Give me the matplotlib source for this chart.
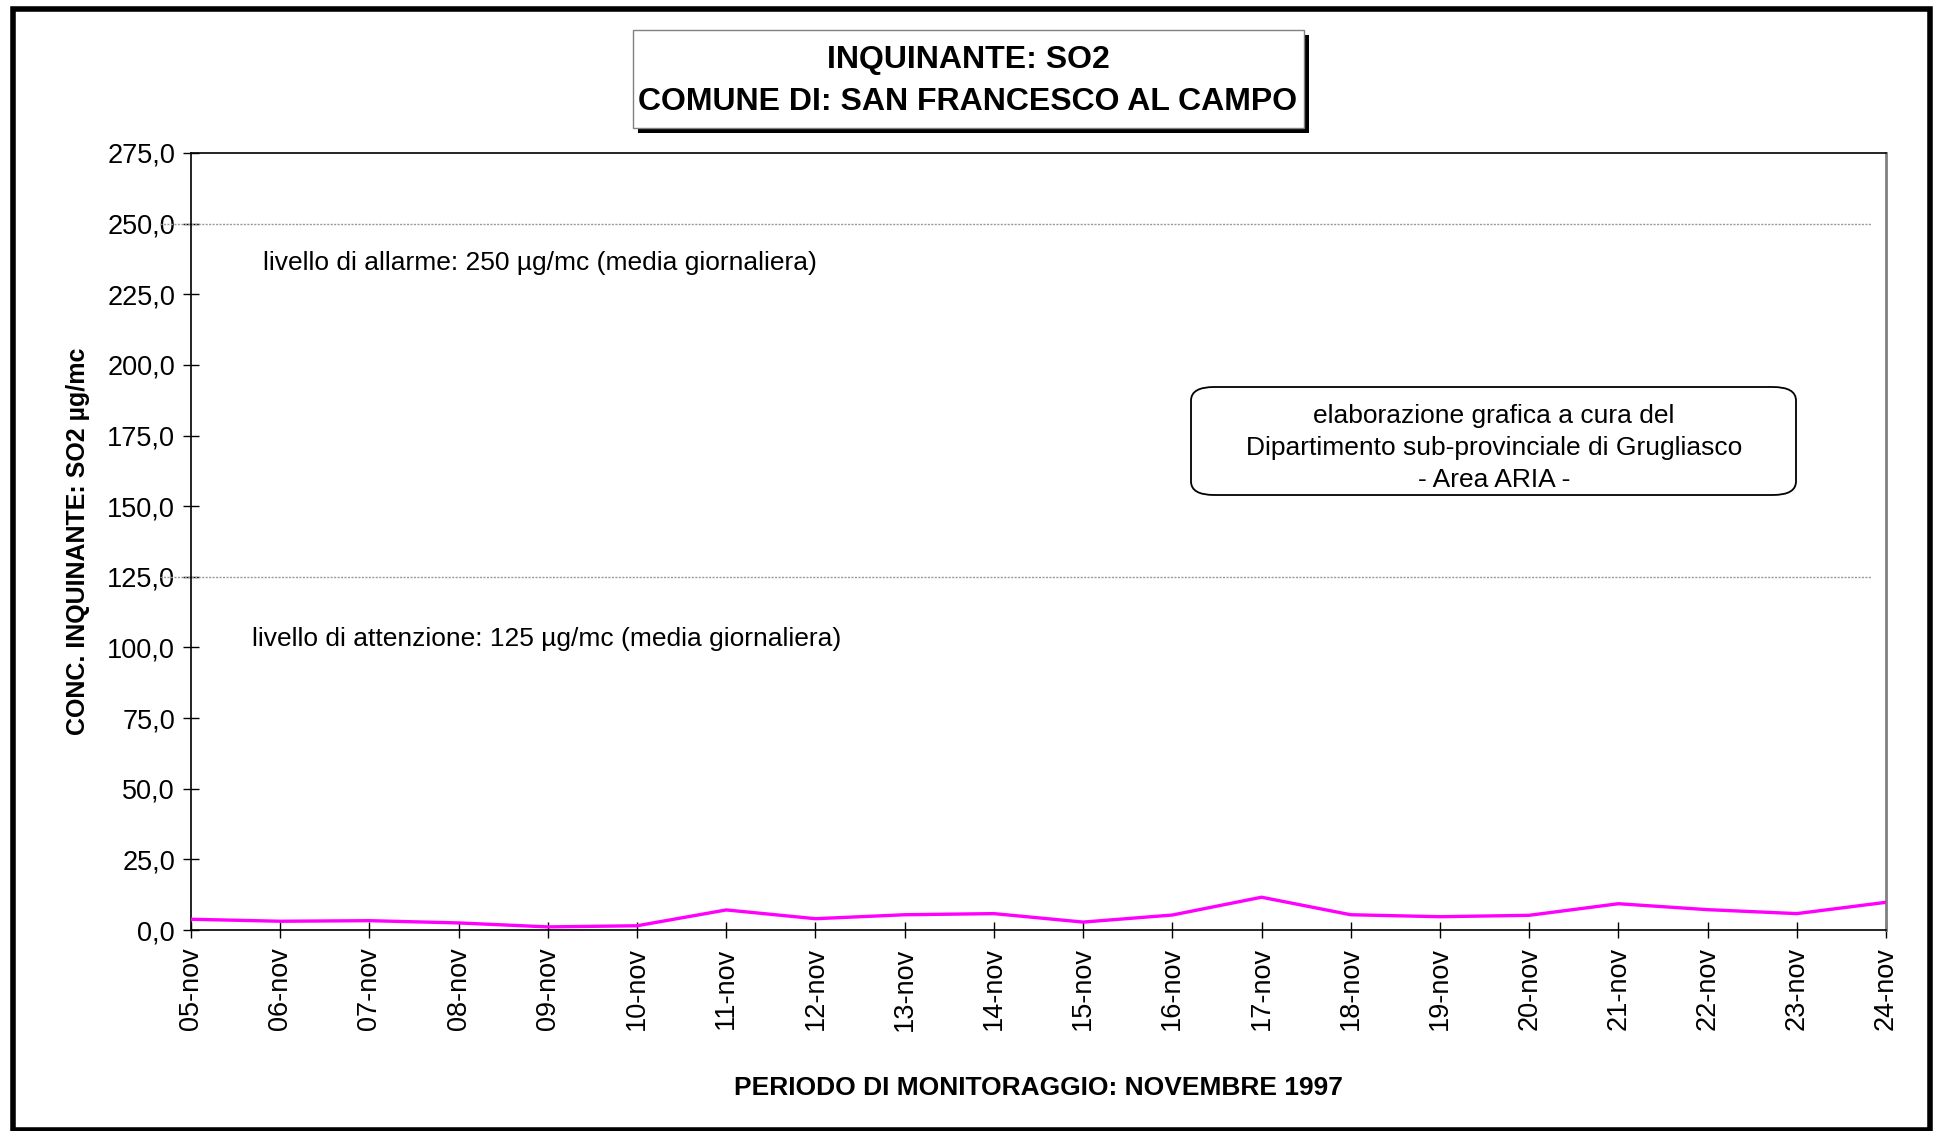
import matplotlib
matplotlib.use("Agg")
import matplotlib.pyplot as plt
from matplotlib.patches import Rectangle, FancyBboxPatch
import matplotlib.transforms as mtransforms

plt.rcParams['font.family'] = ['Liberation Sans', 'DejaVu Sans']

# dati: media giornaliera SO2 (µg/mc)
giorni = ['05-nov', '06-nov', '07-nov', '08-nov', '09-nov', '10-nov', '11-nov',
          '12-nov', '13-nov', '14-nov', '15-nov', '16-nov', '17-nov', '18-nov',
          '19-nov', '20-nov', '21-nov', '22-nov', '23-nov', '24-nov']
so2 = [3.8, 3.1, 3.3, 2.5, 1.1, 1.5, 7.1, 4.0, 5.4, 5.8,
       2.8, 5.3, 11.6, 5.4, 4.7, 5.2, 9.3, 7.2, 5.8, 9.8]
soglie = [250, 125]
testi_soglie = ['livello di allarme: 250 µg/mc (media giornaliera)',
                'livello di attenzione: 125 µg/mc (media giornaliera)']
yticks = [0, 25, 50, 75, 100, 125, 150, 175, 200, 225, 250, 275]

W, H = 1934, 1131
fig = plt.figure(figsize=(W / 100, H / 100), dpi=100)
ax = fig.add_axes([191 / W, 1 - 930 / H, (1886 - 191) / W, (930 - 153) / H])

x = list(range(len(giorni)))
ax.plot(x, so2, color='#FF00FF', lw=2.4, solid_joinstyle='miter', zorder=3)

ax.set_xlim(0, len(giorni) - 1)
ax.set_ylim(0, 275)
ax.set_yticks(yticks)
ax.set_yticklabels([('%.1f' % v).replace('.', ',') for v in yticks], fontsize=19.5)
ax.set_xticks(x)
ax.set_xticklabels(giorni, rotation=90, fontsize=19.5)
ax.tick_params(direction='inout', length=11, width=1, pad=6)
ax.tick_params(axis='x', pad=7)

for s in ['left', 'bottom', 'top']:
    ax.spines[s].set_color('black')
    ax.spines[s].set_linewidth(1.2)
ax.spines['right'].set_color('#808080')
ax.spines['right'].set_linewidth(2)

# linee di soglia
trans = mtransforms.blended_transform_factory(ax.transAxes, ax.transData)
for v in soglie:
    ax.plot([-0.018, 0.991], [v, v], transform=trans, color='#9a9a9a',
            lw=1, ls=(0, (1.5, 1)), clip_on=False, zorder=2)
ax.text(0.81, 236, testi_soglie[0], fontsize=19, va='center', ha='left')
ax.text(0.68, 103, testi_soglie[1], fontsize=19, va='center', ha='left')

ax.set_xlabel('PERIODO DI MONITORAGGIO: NOVEMBRE 1997', fontsize=19,
              fontweight='bold', labelpad=0)
ax.xaxis.set_label_coords(0.5, -(1076 - 930) / (930 - 153))
ax.set_ylabel('CONC. INQUINANTE: SO2 µg/mc', fontsize=18, fontweight='bold')
ax.yaxis.set_label_coords(-(191 - 90) / (1886 - 191), 0.5)

# box elaborazione
box = FancyBboxPatch((1191 / W, 1 - 495 / H), (1796 - 1191) / W, (495 - 387) / H,
                     boxstyle='round,pad=0,rounding_size=0.012',
                     transform=fig.transFigure, fc='white', ec='black', lw=1.3)
fig.patches.append(box)
fig.text(1494 / W, 1 - 448 / H,
         'elaborazione grafica a cura del\nDipartimento sub-provinciale di Grugliasco\n- Area ARIA -',
         ha='center', va='center', fontsize=19, linespacing=1.4)

# titolo con ombra
fig.patches.append(Rectangle((638 / W, 1 - 133 / H), (1304 - 633) / W, (128 - 30) / H,
                             transform=fig.transFigure, fc='black', ec='black', lw=0))
fig.patches.append(Rectangle((633 / W, 1 - 128 / H), (1304 - 633) / W, (128 - 30) / H,
                             transform=fig.transFigure, fc='white', ec='#808080', lw=1))
fig.text(968 / W, 1 - 81 / H, 'INQUINANTE: SO2\nCOMUNE DI: SAN FRANCESCO AL CAMPO',
         ha='center', va='center', fontsize=23, fontweight='bold', linespacing=1.55)

# cornice esterna
fig.patches.append(Rectangle((12.5 / W, 1.5 / H), (1930 - 12.5) / W, (1129.5 - 9) / H,
                             transform=fig.transFigure, fill=False, ec='black', lw=4))

fig.savefig('out.png', dpi=100)
